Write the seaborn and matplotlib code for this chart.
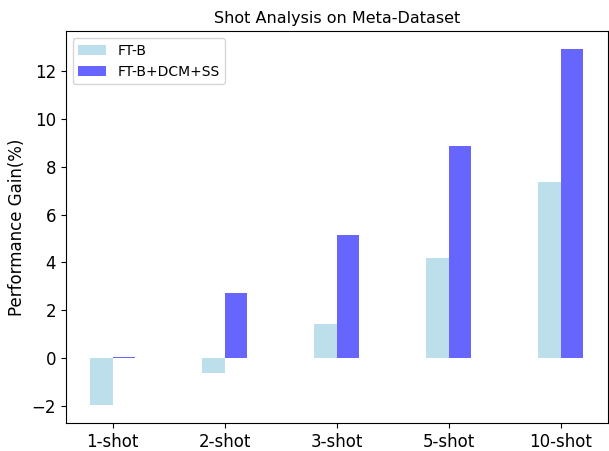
import matplotlib
matplotlib.use('Agg')
import matplotlib.pyplot as plt
import seaborn as sns
import pandas as pd

# 데이터
shots = ['1-shot', '2-shot', '3-shot', '5-shot', '10-shot']
ft_b = [-1.97, -0.64, 1.41, 4.18, 7.37]
ft_b_dcm_ss = [0.06, 2.73, 5.13, 8.86, 12.93]
methods = ['FT-B', 'FT-B+DCM+SS']

df = pd.DataFrame({
    'shot': shots * 2,
    'gain': ft_b + ft_b_dcm_ss,
    'method': [methods[0]] * len(shots) + [methods[1]] * len(shots),
})

# lightblue(alpha 0.8), blue(alpha 0.6) 를 흰 배경에 섞은 색
palette = {methods[0]: '#BDDFEB', methods[1]: '#6666FF'}

fig, ax = plt.subplots(figsize=(6.09, 4.51), dpi=100)
sns.barplot(data=df, x='shot', y='gain', hue='method', palette=palette,
            width=0.4, saturation=1, ax=ax)

ax.set_title('Shot Analysis on Meta-Dataset', fontsize=11.5)
ax.set_xlabel('')
ax.set_ylabel('Performance Gain(%)', fontsize=12)
ax.tick_params(labelsize=12)
ax.set_xlim(-0.42, 4.42)
ax.legend(loc='upper left', fontsize=10)

fig.subplots_adjust(left=0.108, right=0.998, top=0.931, bottom=0.062)
fig.savefig('out.png', dpi=100)
